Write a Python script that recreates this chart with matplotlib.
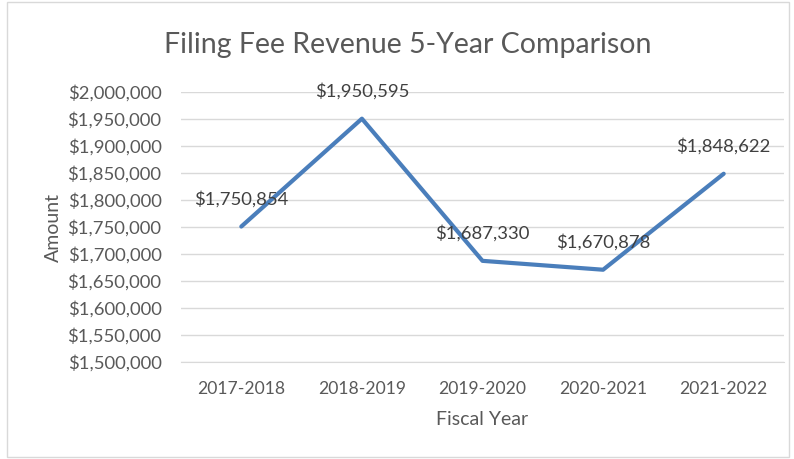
import matplotlib.pyplot as plt
from matplotlib.ticker import FuncFormatter
from matplotlib.patches import Rectangle

# Data
years = ["2017-2018", "2018-2019", "2019-2020", "2020-2021", "2021-2022"]
revenue = [1750854, 1950595, 1687330, 1670878, 1848622]
y_ticks = list(range(1500000, 2000001, 50000))

plt.rcParams['font.family'] = ['Lato', 'DejaVu Sans']

fig = plt.figure(figsize=(7.94, 4.59), dpi=100)
ax = fig.add_axes([181 / 794, 1 - 362 / 459, 603 / 794, 270 / 459])

x = range(len(years))
ax.plot(x, revenue, color='#4a7ebb', linewidth=3, solid_joinstyle='round', solid_capstyle='round')

for xi, v in zip(x, revenue):
    ax.annotate("${:,}".format(v), (xi, v), xytext=(0, 20), textcoords='offset points',
                ha='center', va='center', fontsize=13.3, color='#404040')

ax.set_xlim(-0.5, len(years) - 0.5)
ax.set_ylim(1500000, 2000000)
ax.set_yticks(y_ticks)
ax.yaxis.set_major_formatter(FuncFormatter(lambda v, p: "${:,.0f}".format(v)))
ax.set_xticks(list(x))
ax.set_xticklabels(years)
ax.tick_params(axis='both', length=0, labelcolor='#595959')
ax.tick_params(axis='x', pad=14, labelsize=12.6)
ax.tick_params(axis='y', pad=14, labelsize=13.3)

ax.grid(axis='y', color='#d9d9d9', linewidth=1)
ax.set_axisbelow(True)
for s in ['top', 'right', 'left']:
    ax.spines[s].set_visible(False)
ax.spines['bottom'].set_color('#d9d9d9')

ax.set_xlabel("Fiscal Year", fontsize=14, color='#595959', labelpad=10)
ax.set_ylabel("Amount", fontsize=14, color='#595959', labelpad=4)

fig.text(408 / 794, 1 - 45 / 459, "Filing Fee Revenue 5-Year Comparison", ha='center', va='center',
         fontsize=20.5, color='#595959')

fig.patches.append(Rectangle((7 / 794, 0.005), 0.985, 0.99, transform=fig.transFigure,
                             fill=False, edgecolor='#d9d9d9', linewidth=1))

fig.savefig("out.png", dpi=100)
